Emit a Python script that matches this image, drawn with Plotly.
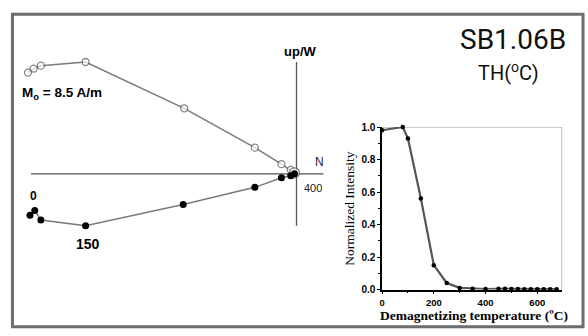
import plotly.graph_objects as go

# --- Zijderveld diagram (units: A/m) ---
vert_n = [-7.87, -7.70, -7.49, -6.18, -3.29, -1.22, -0.44, -0.17, -0.06]   # open: N vs Up
vert_up = [3.06, 3.18, 3.27, 3.38, 1.98, 0.79, 0.29, 0.12, 0.03]
horz_n = [-7.81, -7.67, -7.49, -6.18, -3.32, -1.22, -0.44, -0.17, -0.06]   # filled: N vs W
horz_w = [-1.25, -1.11, -1.40, -1.57, -0.93, -0.41, -0.12, -0.06, 0.0]
axis_h = [-7.78, 0.79]   # extent of horizontal (N) axis
axis_v = [-1.57, 3.38]   # extent of vertical (up/W) axis

# --- Demagnetization curve ---
temps = [0, 80, 100, 150, 200, 250, 300, 350, 400, 450, 475, 500, 525, 550, 575, 600, 625, 650, 675]
intensity = [0.98, 1.0, 0.93, 0.56, 0.15, 0.04, 0.01, 0.005, 0.003, 0.004, 0.004, 0.003,
             0.003, 0.002, 0.002, 0.002, 0.002, 0.002, 0.002]
x_ticks = [0, 200, 400, 600]
y_ticks = [0.0, 0.2, 0.4, 0.6, 0.8, 1.0]

W, H = 588, 336
S = 34.3  # px per A/m
ox, oy = 295, 174

fig = go.Figure()

# Zijderveld traces
fig.add_trace(go.Scatter(x=vert_n, y=vert_up, mode="lines+markers",
                         line=dict(color="#7a7a7a", width=1.5),
                         marker=dict(symbol="circle", size=[7, 7, 7, 7, 7, 7, 7, 7, 10],
                                     color="white", line=dict(color="#555", width=1.3)),
                         xaxis="x", yaxis="y", cliponaxis=False, showlegend=False))
fig.add_trace(go.Scatter(x=horz_n, y=horz_w, mode="lines+markers",
                         line=dict(color="#7a7a7a", width=1.5),
                         marker=dict(symbol="circle", size=7, color="black"),
                         xaxis="x", yaxis="y", cliponaxis=False, showlegend=False))

# Demag curve
fig.add_trace(go.Scatter(x=temps, y=intensity, mode="lines+markers",
                         line=dict(color="#555", width=2.2),
                         marker=dict(symbol="circle", size=4.5, color="black"),
                         xaxis="x2", yaxis="y2", cliponaxis=False, showlegend=False))

fig.update_layout(
    width=W, height=H, margin=dict(l=0, r=0, t=0, b=0),
    paper_bgcolor="white", plot_bgcolor="rgba(0,0,0,0)",
    xaxis=dict(domain=[0, 1], range=[(0 - ox) / S, (W - ox) / S], visible=False, fixedrange=True),
    yaxis=dict(domain=[0, 1], range=[(oy - H) / S, oy / S], visible=False, fixedrange=True),
    xaxis2=dict(domain=[381 / W, 562 / W], range=[0, 696], anchor="y2",
                tickvals=x_ticks, ticks="outside", ticklen=3, tickwidth=1, tickcolor="black",
                minor=dict(dtick=100, ticks="outside", ticklen=2, tickcolor="black"),
                showline=True, linecolor="black", linewidth=1.5, showgrid=False, zeroline=False,
                tickfont=dict(family="Liberation Sans", size=9.5, color="black", weight="bold")),
    yaxis2=dict(domain=[(H - 294) / H, (H - 125.5) / H], range=[0, 1.0], anchor="x2",
                tickvals=y_ticks, tickformat=".1f", ticks="outside", ticklen=3, tickcolor="black",
                minor=dict(dtick=0.1, ticks="outside", ticklen=2, tickcolor="black"),
                showline=True, linecolor="black", linewidth=1.5, showgrid=False, zeroline=False,
                tickfont=dict(family="Liberation Sans", size=10, color="black", weight="bold")),
)

shapes = [
    # outer frame
    dict(type="rect", xref="paper", yref="paper", x0=9.5 / W, x1=583 / W, y0=(H - 332.5) / H,
         y1=(H - 8.5) / H, line=dict(color="#6e6e6e", width=3)),
    # Zijderveld axes
    dict(type="line", xref="x", yref="y", x0=axis_h[0], x1=axis_h[1], y0=0, y1=0,
         line=dict(color="#555", width=1.3), layer="below"),
    dict(type="line", xref="x", yref="y", x0=0, x1=0, y0=axis_v[0], y1=axis_v[1],
         line=dict(color="#555", width=1.3), layer="below"),
    # inner box top & right
    dict(type="line", xref="x2", yref="y2", x0=0, x1=696, y0=1.0, y1=1.0,
         line=dict(color="#a0a0a0", width=1.2), layer="below"),
    dict(type="line", xref="x2", yref="y2", x0=696, x1=696, y0=0, y1=1.0,
         line=dict(color="#8a8a8a", width=1.2), layer="below"),
]
fig.update_layout(shapes=shapes)

bold = dict(family="Liberation Sans", color="black", weight="bold")
ann = [
    dict(text="SB1.06B", x=513 / W, y=(H - 35) / H, xref="paper", yref="paper",
         font=dict(family="Roboto", size=28, color="#111")),
    dict(text="TH(<sup>o</sup>C)", x=508 / W, y=(H - 68) / H, xref="paper", yref="paper",
         font=dict(family="Roboto", size=20, color="#111")),
    dict(text="up/W", x=299 / W, y=(H - 47) / H, xref="paper", yref="paper",
         font=dict(size=13, **bold)),
    dict(text="M<sub>o</sub> = 8.5 A/m", x=59 / W, y=(H - 91) / H, xref="paper", yref="paper",
         font=dict(size=13.5, **bold)),
    dict(text="0", x=(31 - ox) / S, y=(oy - 197) / S, xref="x", yref="y",
         font=dict(size=12, **bold)),
    dict(text="150", x=(85 - ox) / S, y=(oy - 247) / S, xref="x", yref="y",
         font=dict(size=14, **bold)),
    dict(text="N", x=(318 - ox) / S, y=(oy - 162) / S, xref="x", yref="y",
         font=dict(size=12, family="Liberation Sans", color="#222")),
    dict(text="400", x=(312 - ox) / S, y=(oy - 189) / S, xref="x", yref="y",
         font=dict(size=11, family="Liberation Sans", color="#222")),
    dict(text="Normalized Intensity", x=348 / W, y=(H - 210) / H, xref="paper", yref="paper",
         textangle=-90, font=dict(family="Liberation Serif", size=13.5, color="black")),
    dict(text="Demagnetizing temperature (ºC)", x=473 / W, y=(H - 320.5) / H, xref="paper",
         yref="paper",
         font=dict(family="Liberation Serif", size=13.5, color="black", weight="bold")),
]
for a in ann:
    a.update(showarrow=False, xanchor="center", yanchor="middle")
fig.update_layout(annotations=ann)

fig.write_html("out.html")
